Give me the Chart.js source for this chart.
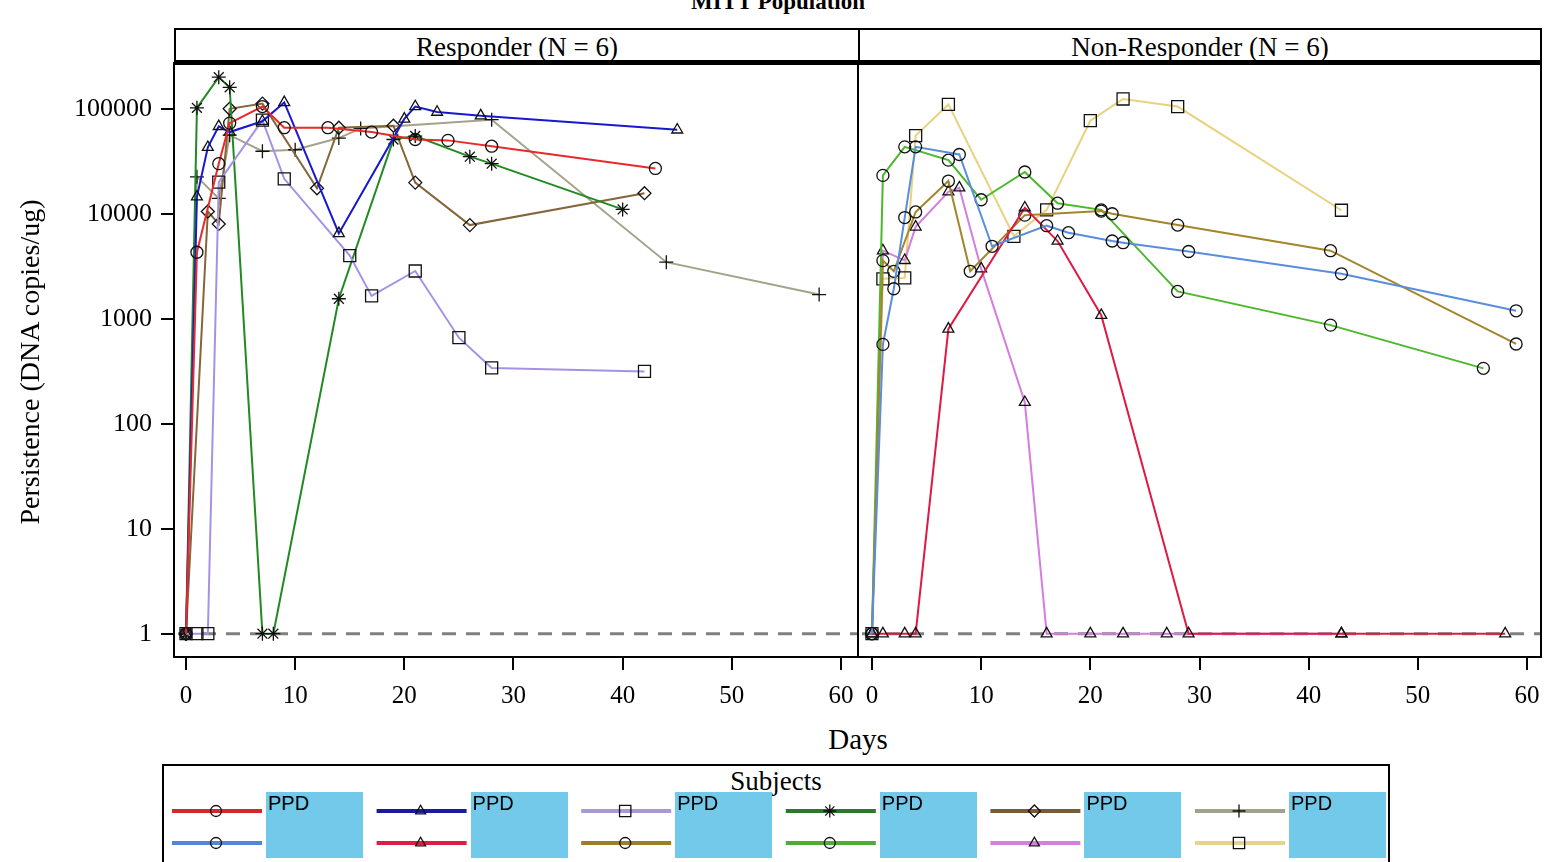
<!DOCTYPE html>
<html>
<head>
<meta charset="utf-8">
<script src="https://cdn.jsdelivr.net/npm/chart.js@4.4.1/dist/chart.umd.min.js"></script>
<style>
  body { margin: 0; width: 1544px; height: 862px; overflow: hidden; position: relative; background: #fff;
         font-family: "Liberation Serif", "Times New Roman", serif; color: #000; }
  .abs { position: absolute; }
  .hdr { position: absolute; top: 28px; height: 33px; border: 2px solid #000; border-bottom: none;
         font-size: 27px; line-height: 34px; text-align: center; box-sizing: border-box; }
  .ppd { position: absolute; background: #72c9ea; font-family: "Liberation Sans", Arial, sans-serif;
         font-size: 20px; line-height: 22px; padding-left: 2px; box-sizing: border-box; }
</style>
</head>
<body>

<div class="abs" style="left:600px; top:-10px; width:356px; text-align:center; font-size:23px; font-weight:bold; line-height:24px;">MITT Population</div>

<div class="hdr" style="left:174px; width:686px;">Responder (N = 6)</div>
<div class="hdr" style="left:858px; width:684px;">Non-Responder (N = 6)</div>
<div class="abs" style="left:174px; top:60px; width:1368px; height:5px; background:#000;"></div>

<canvas id="respChart" class="abs" width="860" height="720" style="left:0; top:0;"></canvas>
<canvas id="nonRespChart" class="abs" width="688" height="720" style="left:856px; top:0;"></canvas>

<div class="abs" style="left:-160px; top:347px; width:380px; text-align:center; font-size:28px; line-height:30px; transform:rotate(-90deg);">Persistence (DNA copies/ug)</div>
<div class="abs" style="left:758px; top:723px; width:200px; text-align:center; font-size:29px; line-height:32px;">Days</div>

<div class="abs" style="left:162px; top:764px; width:1228px; height:100px; border:2px solid #000; box-sizing:border-box;"></div>
<div class="abs" style="left:676px; top:765px; width:200px; text-align:center; font-size:27px; line-height:32px;">Subjects</div>
<canvas id="legendCanvas" class="abs" width="1228" height="98" style="left:162px; top:764px;"></canvas>
<div id="legendBoxes"></div>

<script>
// Axis ticks
const xTicks = [0, 10, 20, 30, 40, 50, 60];
const yTicks = [1, 10, 100, 1000, 10000, 100000];
const yTickLabels = ['1', '10', '100', '1000', '10000', '100000'];

// Responder subjects: study day and persistence (DNA copies/ug)
const resp1Days = [0, 1, 3, 4, 7, 9, 13, 17, 21, 24, 28, 43];
const resp1Vals = [1, 4300, 30000, 73000, 105000, 66000, 66000, 60000, 51000, 50000, 44000, 27000];
const resp2Days = [0, 1, 2, 3, 4, 7, 9, 14, 20, 21, 23, 27, 45];
const resp2Vals = [1, 14500, 43000, 68000, 60000, 76000, 115000, 6500, 80000, 105000, 93000, 86000, 63000];
const resp3Days = [0, 1, 2, 3, 7, 9, 15, 17, 21, 25, 28, 42];
const resp3Vals = [1, 1, 1, 20000, 78000, 21500, 4000, 1650, 2850, 660, 340, 315];
const resp4Days = [0, 1, 3, 4, 7, 8, 14, 19, 21, 26, 28, 40];
const resp4Vals = [1, 102000, 200000, 160000, 1, 1, 1550, 51000, 55000, 35000, 30000, 11000];
const resp5Days = [0, 2, 3, 4, 7, 12, 14, 19, 21, 26, 42];
const resp5Vals = [1, 10500, 8000, 100000, 112000, 17500, 66000, 69000, 19800, 7800, 15700];
const resp6Days = [0, 1, 3, 4, 7, 10, 14, 16, 28, 44, 58];
const resp6Vals = [1, 22500, 14000, 56000, 39400, 40700, 52600, 65000, 78700, 3460, 1700];

// Non-responder subjects
const non1Days = [0, 1, 2, 3, 4, 8, 11, 16, 18, 22, 23, 29, 43, 59];
const non1Vals = [1, 570, 1930, 9200, 43400, 36700, 4900, 7700, 6600, 5500, 5300, 4370, 2680, 1190];
const non2Days = [0, 1, 3, 4, 7, 14, 17, 21, 29, 43, 58];
const non2Vals = [1, 1, 1, 1, 800, 11400, 5500, 1080, 1, 1, 1];
const non3Days = [0, 1, 2, 4, 7, 9, 14, 21, 22, 28, 42, 59];
const non3Vals = [1, 3580, 2830, 10400, 20500, 2830, 9700, 10600, 10000, 7800, 4450, 575];
const non4Days = [0, 1, 3, 7, 10, 14, 17, 21, 28, 42, 56];
const non4Vals = [1, 23200, 43400, 32400, 13600, 25000, 12600, 10900, 1820, 870, 337];
const non5Days = [0, 1, 3, 4, 7, 8, 10, 14, 16, 20, 23, 27, 43];
const non5Vals = [1, 4450, 3600, 7500, 16200, 17700, 3000, 160, 1, 1, 1, 1, 1];
const non6Days = [0, 1, 3, 4, 7, 13, 16, 20, 23, 28, 43];
const non6Vals = [1, 2400, 2450, 55500, 110000, 6100, 10900, 77000, 124000, 105000, 10800];

const responders = [
    { days: resp1Days, vals: resp1Vals, color: '#e82a2a', legendColor: '#d02a2a', marker: 'circle' },
    { days: resp2Days, vals: resp2Vals, color: '#1818d0', legendColor: '#1a1a9a', marker: 'triangle' },
    { days: resp3Days, vals: resp3Vals, color: '#a592e6', legendColor: '#a898d4', marker: 'rect' },
    { days: resp4Days, vals: resp4Vals, color: '#218a21', legendColor: '#2a7a2a', marker: 'star' },
    { days: resp5Days, vals: resp5Vals, color: '#85653a', legendColor: '#7a5c34', marker: 'rectRot' },
    { days: resp6Days, vals: resp6Vals, color: '#a3a38a', legendColor: '#a2a28c', marker: 'cross' }
];
const nonResponders = [
    { days: non1Days, vals: non1Vals, color: '#5a8ddb', legendColor: '#4f86d6', marker: 'circle' },
    { days: non2Days, vals: non2Vals, color: '#de1a44', legendColor: '#dc1e45', marker: 'triangle' },
    { days: non3Days, vals: non3Vals, color: '#a3852c', legendColor: '#9c7e28', marker: 'circle' },
    { days: non4Days, vals: non4Vals, color: '#4cb82c', legendColor: '#4cae32', marker: 'circle' },
    { days: non5Days, vals: non5Vals, color: '#d47ede', legendColor: '#d67fe0', marker: 'triangle' },
    { days: non6Days, vals: non6Vals, color: '#e8d27e', legendColor: '#e6d48a', marker: 'rect' }
];

const markerRadius = { circle: 6, triangle: 6.3, rect: 8.5, star: 7, rectRot: 6.5, cross: 7 };
const serif = '"Liberation Serif", "Times New Roman", serif';

/**
 * Build line datasets for one panel
 */
function makeDatasets(group) {
    return group.map(s => ({
        data: s.days.map((d, i) => ({ x: d, y: s.vals[i] })),
        borderColor: s.color,
        borderWidth: 2,
        pointStyle: s.marker,
        pointRadius: markerRadius[s.marker],
        pointBorderColor: '#111',
        pointBackgroundColor: 'rgba(0,0,0,0)',
        pointBorderWidth: 1.3,
        tension: 0,
        fill: false
    }));
}

// Dashed reference line at 1 and the black panel frame
const panelPlugin = {
    id: 'panel',
    beforeDatasetsDraw(chart) {
        const { ctx, chartArea, scales } = chart;
        const y = scales.y.getPixelForValue(1);
        ctx.save();
        ctx.strokeStyle = '#808080';
        ctx.lineWidth = 3;
        ctx.setLineDash([14, 10]);
        ctx.beginPath();
        ctx.moveTo(chartArea.left + 4, y);
        ctx.lineTo(chartArea.right, y);
        ctx.stroke();
        ctx.restore();
    },
    afterDraw(chart) {
        const { ctx, chartArea } = chart;
        ctx.save();
        ctx.strokeStyle = '#000';
        ctx.lineWidth = 2;
        ctx.strokeRect(chartArea.left, chartArea.top, chartArea.right - chartArea.left, chartArea.bottom - chartArea.top);
        ctx.restore();
    }
};

function panelOptions(xMin, xMax, showY, padLeft, padRight) {
    return {
        responsive: false,
        animation: false,
        events: [],
        layout: { autoPadding: false, padding: { left: padLeft, right: padRight, top: 63, bottom: 0 } },
        plugins: { legend: { display: false }, tooltip: { enabled: false }, title: { display: false } },
        scales: {
            x: {
                type: 'linear',
                min: xMin,
                max: xMax,
                afterBuildTicks: scale => { scale.ticks = xTicks.map(v => ({ value: v })); },
                afterFit: scale => {
                    scale.height = 63;
                    scale.paddingLeft = 0;
                    scale.paddingRight = 0;
                },
                grid: { drawOnChartArea: false, drawTicks: true, tickLength: 13, color: '#000', lineWidth: 2 },
                border: { display: false },
                ticks: { font: { family: serif, size: 25 }, color: '#000', padding: 11, maxRotation: 0, autoSkip: false }
            },
            y: {
                type: 'logarithmic',
                display: showY,
                min: 0.647,
                max: 272900,
                afterBuildTicks: scale => { scale.ticks = yTicks.map(v => ({ value: v })); },
                afterFit: scale => {
                    scale.width = showY ? 174 : 0;
                    scale.paddingTop = 0;
                    scale.paddingBottom = 0;
                },
                grid: { drawOnChartArea: false, drawTicks: true, tickLength: 13, color: '#000', lineWidth: 2 },
                border: { display: false },
                ticks: {
                    font: { family: serif, size: 26 },
                    color: '#000',
                    padding: 9,
                    autoSkip: false,
                    callback: (value, index) => yTickLabels[index]
                }
            }
        }
    };
}

new Chart(document.getElementById('respChart').getContext('2d'), {
    type: 'line',
    data: { datasets: makeDatasets(responders) },
    options: panelOptions(-1.1, 61.56, true, 0, 2),
    plugins: [panelPlugin]
});

new Chart(document.getElementById('nonRespChart').getContext('2d'), {
    type: 'line',
    data: { datasets: makeDatasets(nonResponders) },
    options: panelOptions(-1.28, 61.28, false, 2, 3),
    plugins: [panelPlugin]
});

/**
 * Draw legend: two rows of line + marker swatches, with label boxes
 */
function drawLegend() {
    const canvas = document.getElementById('legendCanvas');
    const ctx = canvas.getContext('2d');
    const rows = [responders, nonResponders];
    const rowY = [47, 79];
    const boxes = document.getElementById('legendBoxes');
    for (let col = 0; col < 6; col++) {
        const x0 = 10 + col * 204.6;
        rows.forEach((group, r) => {
            const s = group[col];
            ctx.save();
            ctx.strokeStyle = s.legendColor;
            ctx.lineWidth = 4;
            ctx.beginPath();
            ctx.moveTo(x0, rowY[r]);
            ctx.lineTo(x0 + 90, rowY[r]);
            ctx.stroke();
            ctx.strokeStyle = '#111';
            ctx.fillStyle = 'rgba(0,0,0,0)';
            ctx.lineWidth = 1.3;
            const opts = { pointStyle: s.marker, radius: markerRadius[s.marker] - 0.5, rotation: 0, borderWidth: 1.3 };
            if (Chart.helpers && Chart.helpers.drawPoint) {
                Chart.helpers.drawPoint(ctx, opts, x0 + 44, rowY[r]);
            } else {
                ctx.beginPath();
                ctx.arc(x0 + 44, rowY[r], 5.5, 0, Math.PI * 2);
                ctx.stroke();
            }
            ctx.restore();
        });
        const box = document.createElement('div');
        box.className = 'ppd';
        box.style.left = (162 + x0 + 94) + 'px';
        box.style.top = '792px';
        box.style.width = '97px';
        box.style.height = '66px';
        box.textContent = 'PPD';
        boxes.appendChild(box);
    }
}
drawLegend();
</script>
</body>
</html>
